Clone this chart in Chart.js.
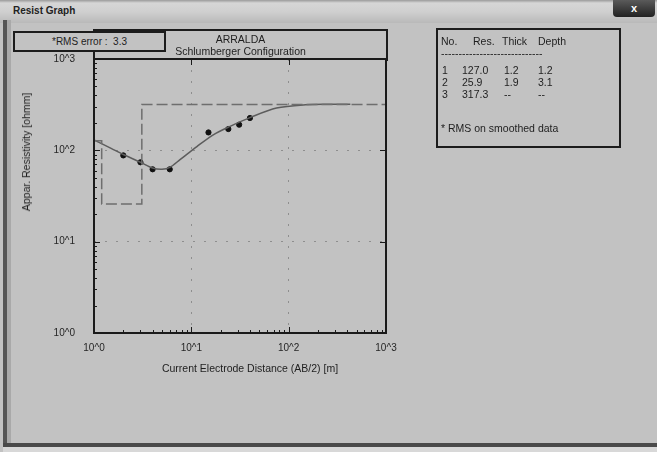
<!DOCTYPE html>
<html>
<head>
<meta charset="utf-8">
<script src="https://cdn.jsdelivr.net/npm/chart.js@4"></script>
<style>
  html, body { margin: 0; padding: 0; }
  body {
    width: 657px; height: 452px; position: relative; overflow: hidden;
    background: #c2c2c2;
    font-family: "Liberation Sans", Arial, sans-serif;
    color: #1e1e1e;
  }
  #chart { position: absolute; left: 0; top: 0; }
  .abs { position: absolute; }
  .titlebar {
    left: 0; top: 0; width: 657px; height: 23px;
    background: linear-gradient(to bottom, #9a9a9a 0, #d6d6d6 3px, #cfcfcf 12px, #b9b9b9 23px);
  }
  .titlebar span { position: absolute; left: 13px; top: 5px; font-size: 10px; font-weight: bold; color: #222; }
  .close {
    right: 2px; top: 0; width: 42px; height: 17px; background: linear-gradient(#5a5a5a, #222);
    border-radius: 0 0 4px 4px; color: #fff; font-size: 11px; font-weight: bold; text-align: center; line-height: 16px;
  }
  .leftedge { left: 3px; top: 20px; width: 4px; height: 427px; background: #555; }
  .leftedge2 { left: 7px; top: 20px; width: 4px; height: 425px; background: #a9a9a9; }
  .bottomedge { left: 3px; top: 443px; width: 654px; height: 4px; background: #4a4a4a; }
  .bottomedge2 { left: 3px; top: 447px; width: 654px; height: 5px; background: #d8d8d8; }
  .box { border: 2px solid #1c1c1c; box-sizing: border-box; }
  .rms { left: 13px; top: 31px; width: 153px; height: 21px; background: #c2c2c2; font-size: 10px; text-align: center; line-height: 17px; }
  .ttl { left: 93px; top: 29px; width: 295px; height: 32px; border-bottom: none; font-size: 10.5px; text-align: center; line-height: 12px; padding-top: 2px; }
  .table { left: 436px; top: 28px; width: 185px; height: 120px; font-size: 10.5px; }
  .table span { position: absolute; white-space: nowrap; }
  .ylab { left: 26px; top: 152px; font-size: 10.5px; white-space: nowrap; transform: translate(-50%, -50%) rotate(-90deg); }
  .xlab { left: 250px; top: 368px; font-size: 10.5px; white-space: nowrap; transform: translate(-50%, -50%); }
</style>
</head>
<body>
<div class="abs titlebar"><span>Resist Graph</span></div>
<div class="abs close">x</div>
<div class="abs leftedge"></div>
<div class="abs leftedge2"></div>
<div class="abs bottomedge"></div>
<div class="abs bottomedge2"></div>

<canvas id="chart" width="657" height="452"></canvas>

<div class="abs box ttl">ARRALDA<br>Schlumberger Configuration</div>
<div class="abs box rms">*RMS error :&nbsp; 3.3</div>
<div class="abs box table" id="layerTable"></div>
<div class="abs ylab">Appar. Resistivity [ohmm]</div>
<div class="abs xlab">Current Electrode Distance (AB/2) [m]</div>

<script>
// Measured apparent resistivity (AB/2 in m, rho in ohmm)
const abHalf = [2.0, 3.0, 4.0, 6.0, 15, 24, 31, 40];
const rhoMeasured = [88, 74, 62, 62, 157, 171, 191, 226];

// Smoothed model response curve
const curveAb = [1.0, 1.5, 2.0, 3.0, 4.0, 5.0, 6.0, 7.65, 11.4, 16.8, 25, 40, 75, 150, 250, 430];
const curveRho = [130, 105, 90, 74, 64, 62, 65, 79, 110, 148, 183, 228, 290, 316, 320, 320];

// Layered model (step line)
const modelDepth = [1.0, 1.2, 1.2, 3.1, 3.1, 1000];
const modelRho = [127, 127, 25.9, 25.9, 317.3, 317.3];

// Layer table
const layerNo = ['1', '2', '3'];
const layerRes = ['127.0', '25.9', '317.3'];
const layerThick = ['1.2', '1.9', '--'];
const layerDepth = ['1.2', '3.1', '--'];

const toPoints = (xs, ys) => xs.map((x, i) => ({ x: x, y: ys[i] }));

// Fill the layer table
function buildTable() {
    const box = document.getElementById('layerTable');
    const cols = [3, 24, 66, 100];
    const add = (text, left, top) => {
        const s = document.createElement('span');
        s.textContent = text;
        s.style.left = left + 'px';
        s.style.top = top + 'px';
        box.appendChild(s);
    };
    add('No.', 3, 5);
    add('Res.', 35, 5);
    add('Thick', 64, 5);
    add('Depth', 100, 5);
    add('-----------------------------', 3, 17);
    layerNo.forEach((n, i) => {
        const top = 34 + i * 12;
        add(n, cols[0] + 1, top);
        add(layerRes[i], cols[1], top);
        add(layerThick[i], cols[2], top);
        add(layerDepth[i], cols[3], top);
    });
    add('* RMS on smoothed data', 3, 92);
}
buildTable();

function decadeLabel(value) {
    const e = Math.log10(value);
    if (Math.abs(e - Math.round(e)) < 1e-9) return '10^' + Math.round(e);
    return null;
}

function fixAxis(size, key) {
    return function(scale) {
        scale[key] = size;
        scale.paddingTop = 0;
        scale.paddingBottom = 0;
        scale.paddingLeft = 0;
        scale.paddingRight = 0;
    };
}

// Frame and inward minor ticks
const framePlugin = {
    id: 'framePlugin',
    afterDraw(chart) {
        const { ctx, chartArea: a, scales } = chart;
        ctx.save();
        ctx.strokeStyle = '#1a1a1a';
        ctx.lineWidth = 1;
        ctx.beginPath();
        for (let d = 1; d < 1000; d *= 10) {
            for (let m = 1; m < 10; m++) {
                const v = d * m;
                const len = m === 1 ? 6 : 3;
                const px = Math.round(scales.x.getPixelForValue(v)) + 0.5;
                const py = Math.round(scales.y.getPixelForValue(v)) + 0.5;
                ctx.moveTo(a.left, py);
                ctx.lineTo(a.left + len, py);
                ctx.moveTo(px, a.bottom);
                ctx.lineTo(px, a.bottom - len);
                if (m === 1) {
                    ctx.moveTo(a.right, py);
                    ctx.lineTo(a.right - len, py);
                    ctx.moveTo(px, a.top);
                    ctx.lineTo(px, a.top + len);
                }
            }
        }
        ctx.stroke();
        ctx.lineWidth = 2;
        ctx.strokeRect(a.left, a.top, a.right - a.left, a.bottom - a.top);
        ctx.restore();
    }
};

const tickFont = { family: '"Liberation Sans", Arial, sans-serif', size: 10 };

new Chart(document.getElementById('chart'), {
    type: 'line',
    data: {
        datasets: [
            {
                label: 'Model',
                data: toPoints(modelDepth, modelRho),
                borderColor: '#6e6e6e',
                borderWidth: 1.5,
                borderDash: [11, 4],
                pointRadius: 0,
                tension: 0
            },
            {
                label: 'Smoothed',
                data: toPoints(curveAb, curveRho),
                borderColor: '#5c5c5c',
                borderWidth: 1.5,
                pointRadius: 0,
                tension: 0.3
            },
            {
                label: 'Measured',
                data: toPoints(abHalf, rhoMeasured),
                showLine: false,
                pointRadius: 2.6,
                pointBackgroundColor: '#111',
                pointBorderColor: '#111'
            }
        ]
    },
    options: {
        responsive: false,
        devicePixelRatio: 1,
        animation: false,
        layout: { padding: { left: 0, right: 271, top: 59, bottom: 99 } },
        plugins: { legend: { display: false }, tooltip: { enabled: false } },
        scales: {
            x: {
                type: 'logarithmic',
                min: 1,
                max: 1000,
                afterFit: fixAxis(20, 'height'),
                border: { display: false, dash: [2, 9] },
                grid: { color: '#8e8e8e', lineWidth: 1, drawTicks: false },
                ticks: {
                    autoSkip: false, maxRotation: 0, padding: 9,
                    color: '#262626', font: tickFont,
                    callback: decadeLabel
                }
            },
            y: {
                type: 'logarithmic',
                min: 1,
                max: 1000,
                afterFit: fixAxis(94, 'width'),
                border: { display: false, dash: [2, 9] },
                grid: { color: '#8e8e8e', lineWidth: 1, drawTicks: false },
                ticks: {
                    autoSkip: false, padding: 19,
                    color: '#262626', font: tickFont,
                    callback: decadeLabel
                }
            }
        }
    },
    plugins: [framePlugin]
});
</script>
</body>
</html>
